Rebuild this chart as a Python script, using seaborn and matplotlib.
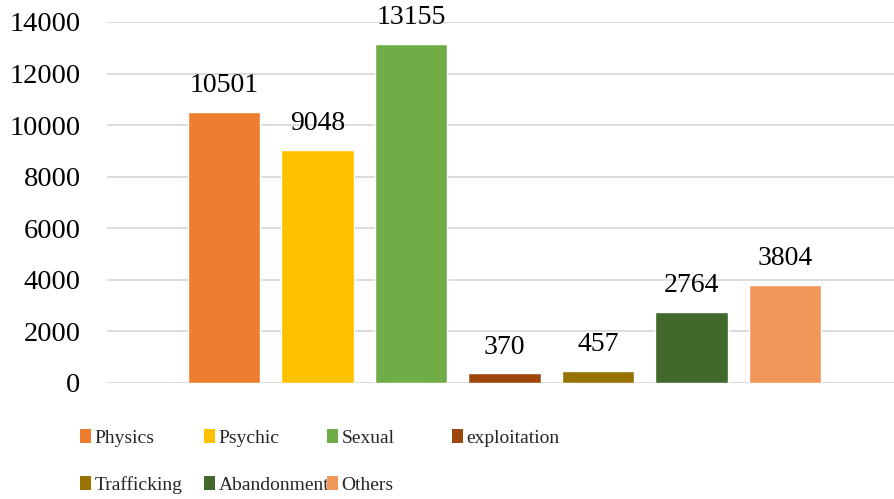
import matplotlib
matplotlib.use("Agg")
import matplotlib.pyplot as plt
from matplotlib.patches import Patch
import seaborn as sns

categories = ["Physics", "Psychic", "Sexual", "exploitation",
              "Trafficking", "Abandonment", "Others"]
values = [10501, 9048, 13155, 370, 457, 2764, 3804]
colors = ["#ED7D31", "#FFC000", "#70AD47", "#9E480E",
          "#997300", "#43682B", "#F1975A"]
yticks = [0, 2000, 4000, 6000, 8000, 10000, 12000, 14000]

sns.set_theme(style="white")
plt.rcParams['font.family'] = ['Liberation Serif', 'DejaVu Serif']

fig = plt.figure(figsize=(8.94, 4.99), dpi=100)
ax = fig.add_axes([0.1197, 0.2325, 0.8803, 0.7235])

sns.barplot(x=categories, y=values, hue=categories, palette=colors,
            order=categories, width=0.774, legend=False, ax=ax, saturation=1)

for c in ax.containers:
    ax.bar_label(c, padding=10, fontsize=20, color="#000000")

ax.set_ylim(0, 14000)
ax.set_xlim(-1.254, 7.168)
ax.set_yticks(yticks)
ax.set_yticklabels([str(t) for t in yticks], fontsize=20.5, color="#000000")
ax.tick_params(axis='y', length=0, pad=19)
ax.set_xticks([])
ax.set_xlabel("")
ax.set_ylabel("")
ax.grid(axis='y', color="#D9D9D9", linewidth=1.3)
ax.set_axisbelow(True)
for s in ax.spines.values():
    s.set_visible(False)

# legend: 4 equally spaced columns, like Excel
col_x = [0.0895, 0.2282, 0.3658, 0.5056]
for i, x in enumerate(col_x):
    idx = [j for j in (i, i + 4) if j < len(categories)]
    handles = [Patch(facecolor=colors[j], edgecolor="none") for j in idx]
    labels = [categories[j] for j in idx]
    fig.legend(handles, labels, loc='upper left', bbox_to_anchor=(x, 0.14),
               frameon=False, fontsize=14, handlelength=0.55, handleheight=0.7,
               handletextpad=0.2, labelspacing=1.5, borderpad=0, borderaxespad=0)

plt.savefig("out.png", dpi=100)
